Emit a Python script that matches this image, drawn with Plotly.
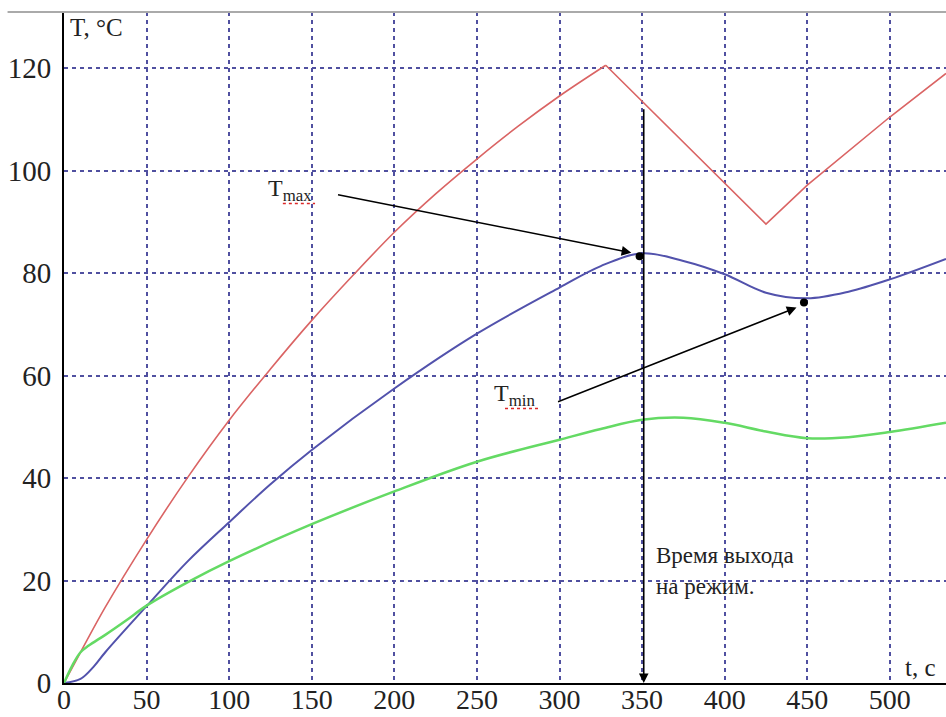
import plotly.graph_objects as go

# --- data ---
# red: smooth rise to the peak, then straight segments
t_red_rise = [0, 10, 25, 50, 75, 100, 125, 150, 175, 200, 225, 250, 275, 300, 328]
T_red_rise = [0, 6, 14.8, 28, 40.2, 51.3, 61.3, 70.8, 79.6, 88.0, 95.5, 102.3, 108.7, 114.6, 120.6]
t_red_saw = [328, 425, 450, 500, 534]
T_red_saw = [120.6, 89.6, 97.2, 110.5, 119]

t_blue = [0, 10, 18, 25, 50, 75, 100, 125, 150, 200, 250, 300, 325, 350, 375, 400, 425, 450, 475, 500, 534]
T_blue = [0, 0.8, 3.2, 6, 15, 23.8, 31.4, 38.8, 45.5, 57.5, 68.2, 77.2, 81.4, 83.9, 82.4, 79.8, 76.2, 75.1, 76.4, 78.8, 82.8]

t_green = [0, 5, 10, 15, 25, 38, 50, 75, 100, 150, 200, 250, 300, 325, 350, 375, 400, 425, 450, 475, 500, 534]
T_green = [0, 3.4, 6, 7.3, 9.4, 12.3, 15.1, 19.7, 23.8, 31, 37.4, 43.2, 47.5, 49.6, 51.4, 51.8, 50.8, 49.1, 47.8, 48.0, 49.0, 50.8]

x_ticks = [0, 50, 100, 150, 200, 250, 300, 350, 400, 450, 500]
y_ticks = [0, 20, 40, 60, 80, 100, 120]

t_max_point = [348.5]
T_max_point = [83.3]
t_min_point = [448]
T_min_point = [74.3]
t_regime = 351

FONT = "Liberation Serif, Times New Roman, serif"
RED = "rgb(218,100,100)"

fig = go.Figure()
fig.add_trace(go.Scatter(x=t_red_rise, y=T_red_rise, mode="lines",
                         line=dict(color=RED, width=1.6, shape="spline", smoothing=1.0),
                         hoverinfo="skip"))
fig.add_trace(go.Scatter(x=t_red_saw, y=T_red_saw, mode="lines",
                         line=dict(color=RED, width=1.6), hoverinfo="skip"))
fig.add_trace(go.Scatter(x=t_blue, y=T_blue, mode="lines",
                         line=dict(color="rgb(82,82,172)", width=2, shape="spline", smoothing=1.0),
                         hoverinfo="skip"))
fig.add_trace(go.Scatter(x=t_green, y=T_green, mode="lines",
                         line=dict(color="rgb(100,218,100)", width=2.5, shape="spline", smoothing=1.0),
                         hoverinfo="skip"))
fig.add_trace(go.Scatter(x=t_max_point + t_min_point, y=T_max_point + T_min_point, mode="markers",
                         marker=dict(color="black", size=8), hoverinfo="skip"))

annotations = [
    # Tmax arrow
    dict(x=343.5, y=84.0, ax=165, ay=95.4, xref="x", yref="y", axref="x", ayref="y",
         text="", showarrow=True, arrowhead=2, arrowsize=1.3, arrowwidth=1.5, arrowcolor="black"),
    # Tmin arrow
    dict(x=443.5, y=73.3, ax=298.2, ay=54.8, xref="x", yref="y", axref="x", ayref="y",
         text="", showarrow=True, arrowhead=2, arrowsize=1.3, arrowwidth=1.5, arrowcolor="black"),
    # vertical arrow
    dict(x=t_regime, y=0, ax=t_regime, ay=112.3, xref="x", yref="y", axref="x", ayref="y",
         text="", showarrow=True, arrowhead=2, arrowsize=1.2, arrowwidth=1.6, arrowcolor="black"),
    dict(x=136.8, y=96.3, xref="x", yref="y", text="T<sub>max</sub>", showarrow=False,
         font=dict(family=FONT, size=24, color="#222")),
    dict(x=273, y=56.3, xref="x", yref="y", text="T<sub>min</sub>", showarrow=False,
         font=dict(family=FONT, size=24, color="#222")),
    dict(x=357.5, y=24.8, xref="x", yref="y", text="Время выхода", showarrow=False,
         xanchor="left", font=dict(family=FONT, size=23, color="#222")),
    dict(x=357.5, y=18.8, xref="x", yref="y", text="на режим.", showarrow=False,
         xanchor="left", font=dict(family=FONT, size=23, color="#222")),
    dict(x=2.5, y=128, xref="x", yref="y", text="T, °C", showarrow=False,
         xanchor="left", font=dict(family=FONT, size=25, color="#222")),
    dict(x=508, y=3.1, xref="x", yref="y", text="t, c", showarrow=False,
         xanchor="left", font=dict(family=FONT, size=25, color="#222")),
]

shapes = [
    dict(type="line", xref="paper", yref="paper", x0=-0.064, x1=1, y0=1, y1=1,
         line=dict(color="#aaaaaa", width=2)),
    dict(type="line", xref="x", yref="y", x0=132.5, x1=152, y0=93.6, y1=93.6,
         line=dict(color="rgb(220,40,40)", width=1.5, dash="dot")),
    dict(type="line", xref="x", yref="y", x0=267, x1=288, y0=53.6, y1=53.6,
         line=dict(color="rgb(220,40,40)", width=1.5, dash="dot")),
]

fig.update_layout(
    width=946, height=717,
    margin=dict(l=64, r=0, t=12, b=34),
    paper_bgcolor="white", plot_bgcolor="white",
    showlegend=False,
    annotations=annotations, shapes=shapes,
    xaxis=dict(range=[0, 534], tickvals=x_ticks, ticktext=[str(v) for v in x_ticks],
               showgrid=True, gridcolor="rgb(80,80,160)", gridwidth=2, griddash="4px,4px",
               zeroline=False, showline=True, linecolor="black", linewidth=2,
               ticks="", tickfont=dict(family=FONT, size=28, color="#222"),
               ticklabelstandoff=-10, automargin=False, fixedrange=True),
    yaxis=dict(range=[0, 131], tickvals=y_ticks, ticktext=[str(v) for v in y_ticks],
               showgrid=True, gridcolor="rgb(80,80,160)", gridwidth=2, griddash="4px,4px",
               zeroline=False, showline=True, linecolor="black", linewidth=2,
               ticks="", tickfont=dict(family=FONT, size=29, color="#222"),
               ticklabelstandoff=5, automargin=False, fixedrange=True),
)

fig.write_html("out.html", config={"displayModeBar": False},
               post_script="document.body.style.margin='0';document.body.style.overflow='hidden';")
